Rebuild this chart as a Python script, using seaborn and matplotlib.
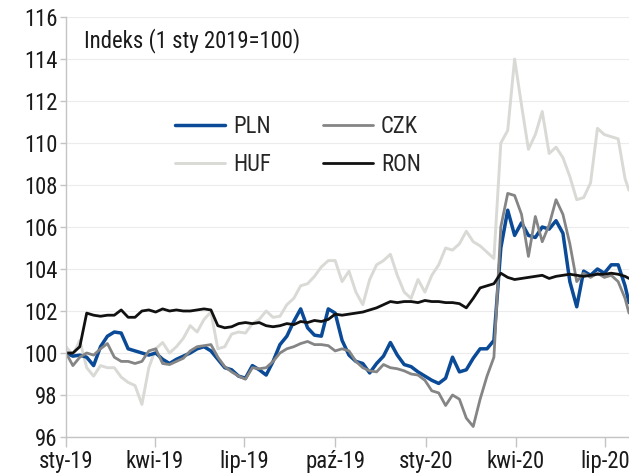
import os
import matplotlib
matplotlib.use("Agg")
import matplotlib.pyplot as plt
import seaborn as sns
import pandas as pd
from matplotlib import font_manager

# ---- data (index, 1 sty 2019 = 100), weekly readings ----
dates = list(pd.date_range("2019-01-01", periods=82, freq="7D")) + [pd.Timestamp("2020-07-25")]

pln = [100.0, 99.85, 99.9, 99.8, 99.4, 100.3, 100.8, 101.0, 100.95, 100.2,
       100.1, 100.0, 99.9, 100.0, 99.7, 99.5, 99.7, 99.85, 100.0, 100.2,
       100.3, 100.1, 99.7, 99.3, 99.2, 98.9, 98.8, 99.4, 99.2, 98.95,
       99.6, 100.4, 100.8, 101.5, 102.1, 101.2, 100.85, 100.8, 102.1, 101.9,
       100.6, 99.9, 99.6, 99.5, 99.05, 99.5, 99.85, 100.5, 99.9, 99.45,
       99.35, 99.1, 98.9, 98.7, 98.55, 98.8, 99.8, 99.1, 99.2, 99.75,
       100.2, 100.2, 100.6, 105.0, 106.8, 105.6, 106.2, 105.6, 105.5, 106.0,
       105.9, 106.3, 105.7, 103.4, 102.2, 103.9, 103.7, 104.0, 103.8, 104.2,
       104.2, 103.2, 102.4]

czk = [100.0, 99.4, 99.8, 100.0, 99.9, 100.2, 100.45, 99.8, 99.6, 99.6,
       99.5, 99.6, 100.1, 100.2, 99.5, 99.45, 99.6, 99.75, 100.1, 100.3,
       100.35, 100.4, 99.8, 99.35, 99.1, 98.9, 98.75, 99.3, 99.25, 99.3,
       99.6, 100.0, 100.2, 100.3, 100.45, 100.55, 100.4, 100.4, 100.35, 100.1,
       100.2, 100.1, 99.6, 99.3, 99.15, 99.1, 99.45, 99.3, 99.25, 99.15,
       99.0, 98.95, 98.7, 98.2, 98.1, 97.5, 98.0, 97.8, 96.9, 96.5,
       97.8, 98.9, 99.8, 106.0, 107.6, 107.5, 106.6, 104.6, 106.5, 105.3,
       106.1, 107.3, 106.6, 105.2, 103.4, 103.8, 103.6, 103.8, 103.6, 103.7,
       103.4, 102.6, 101.9]

huf = [100.3, 99.9, 100.6, 99.3, 98.9, 99.4, 99.3, 99.3, 98.85, 98.6,
       98.45, 97.55, 99.3, 100.2, 100.5, 100.0, 100.3, 100.7, 101.3, 101.0,
       101.6, 101.95, 100.2, 100.3, 100.9, 101.0, 100.95, 101.4, 101.6, 102.0,
       101.7, 101.75, 102.3, 102.6, 103.2, 103.3, 103.65, 104.1, 104.4, 104.4,
       103.4, 103.9, 102.9, 102.3, 103.5, 104.2, 104.4, 104.7, 103.7, 102.9,
       102.6, 103.5, 102.9, 103.7, 104.2, 105.0, 104.9, 105.2, 105.8, 105.3,
       105.1, 104.8, 104.5, 110.0, 110.6, 114.0, 111.8, 109.7, 110.4, 111.5,
       109.5, 109.8, 109.3, 108.4, 107.3, 107.4, 108.1, 110.7, 110.4, 110.3,
       110.2, 108.3, 107.75]

ron = [100.0, 100.0, 100.3, 101.9, 101.8, 101.75, 101.8, 101.8, 102.05, 101.7,
       101.7, 102.0, 102.05, 101.95, 102.1, 102.0, 102.05, 102.0, 102.0, 102.05,
       102.1, 102.05, 101.3, 101.2, 101.25, 101.4, 101.45, 101.4, 101.45, 101.3,
       101.25, 101.3, 101.4, 101.35, 101.5, 101.45, 101.55, 101.5, 101.6, 101.85,
       101.8, 101.85, 101.9, 101.95, 102.05, 102.15, 102.3, 102.45, 102.4, 102.45,
       102.45, 102.4, 102.5, 102.45, 102.45, 102.4, 102.4, 102.35, 102.15, 102.6,
       103.1, 103.2, 103.3, 103.8, 103.6, 103.5, 103.55, 103.6, 103.65, 103.7,
       103.55, 103.65, 103.7, 103.75, 103.7, 103.65, 103.7, 103.75, 103.75, 103.8,
       103.75, 103.65, 103.55]

tick_dates = ["2019-01-01", "2019-04-01", "2019-07-01", "2019-10-01",
              "2020-01-01", "2020-04-01", "2020-07-01"]
tick_labels = ["sty-19", "kwi-19", "lip-19", "paź-19", "sty-20", "kwi-20", "lip-20"]
y_ticks = [96, 98, 100, 102, 104, 106, 108, 110, 112, 114, 116]


# ---- pick a condensed sans font if one is installed ----
def pick_font():
    names = {f.name for f in font_manager.fontManager.ttflist}
    for p in ["Liberation Sans Narrow", "Roboto Condensed", "Open Sans Condensed",
              "Noto Sans Condensed", "DejaVu Sans Condensed", "Arial Narrow"]:
        if p in names:
            return p, "normal", True
    cands = []
    for f in font_manager.fontManager.ttflist:
        fn = os.path.basename(f.fname).lower()
        st = str(f.stretch).lower()
        is_cond = ("condensed" in fn or "narrow" in fn or st in ("condensed", "semi-condensed"))
        if not is_cond or f.style != "normal":
            continue
        if "bold" in fn or "light" in fn or "thin" in fn or "medium" in fn or "black" in fn:
            continue
        if "extra" in fn or "ultra" in fn or "mono" in fn or "serif" in fn:
            continue
        cands.append(f)
    pref = ["liberation", "roboto", "noto", "open", "dejavu", "lato", "inter"]

    def rank(f):
        fn = os.path.basename(f.fname).lower()
        for i, p in enumerate(pref):
            if p in fn:
                return i
        return 99
    cands.sort(key=rank)
    if cands:
        f = cands[0]
        return f.name, f.stretch, True
    return "DejaVu Sans", "normal", False


fam, stretch, condensed = pick_font()
sns.set_theme(style="white")
plt.rcParams["font.family"] = [fam, "DejaVu Sans"]
plt.rcParams["font.stretch"] = stretch
FS = 16.4 if condensed else 13
PX = FS * 100 / 72  # font size in pixels

fig = plt.figure(figsize=(6.29, 4.75), dpi=100)
ax = fig.add_axes([66 / 629, 38 / 475, 563 / 629, 420 / 475])

series = [  # draw order
    ("HUF", huf, "#d9d9d6", 2.1),
    ("PLN", pln, "#0a4a96", 2.5),
    ("CZK", czk, "#858585", 2.0),
    ("RON", ron, "#111111", 2.0),
]
for name, vals, col, lw in series:
    sns.lineplot(x=dates, y=vals, ax=ax, color=col, linewidth=lw, label=name)

handles, labels = ax.get_legend_handles_labels()
hmap = dict(zip(labels, handles))
order = ["PLN", "HUF", "CZK", "RON"]
ax.legend([hmap[o] for o in order], order, ncol=2, loc="upper left",
          bbox_to_anchor=(0.194, 0.766), frameon=False, fontsize=FS,
          handlelength=50 / PX, handletextpad=8 / PX,
          columnspacing=52 / PX,
          labelspacing=15 / PX, borderpad=0, borderaxespad=0)

ax.set_xlim(pd.Timestamp("2019-01-01"), pd.Timestamp("2020-07-25"))
ax.set_ylim(96, 116)
ax.set_yticks(y_ticks)
ax.set_xticks([pd.Timestamp(d) for d in tick_dates])
ax.set_xticklabels(tick_labels)
ax.set_xlabel("")
ax.set_ylabel("")

ax.yaxis.grid(True, color="#ececec", linewidth=0.8)
ax.xaxis.grid(False)
ax.set_axisbelow(True)
for s in ["top", "right"]:
    ax.spines[s].set_visible(False)
for s in ["left", "bottom"]:
    ax.spines[s].set_color("#c4c4c4")
    ax.spines[s].set_linewidth(1.0)

ax.tick_params(axis="x", bottom=True, direction="out", length=7, width=1,
               color="#c4c4c4", labelsize=FS, labelcolor="#1a1a1a", pad=2.5)
ax.tick_params(axis="y", left=True, direction="out", length=4, width=1,
               color="#c4c4c4", labelsize=FS, labelcolor="#1a1a1a", pad=2)

ax.text(0.032, 0.945, "Indeks (1 sty 2019=100)", transform=ax.transAxes,
        ha="left", va="center", fontsize=FS, color="#1a1a1a")

fig.savefig("out.png", dpi=100)
